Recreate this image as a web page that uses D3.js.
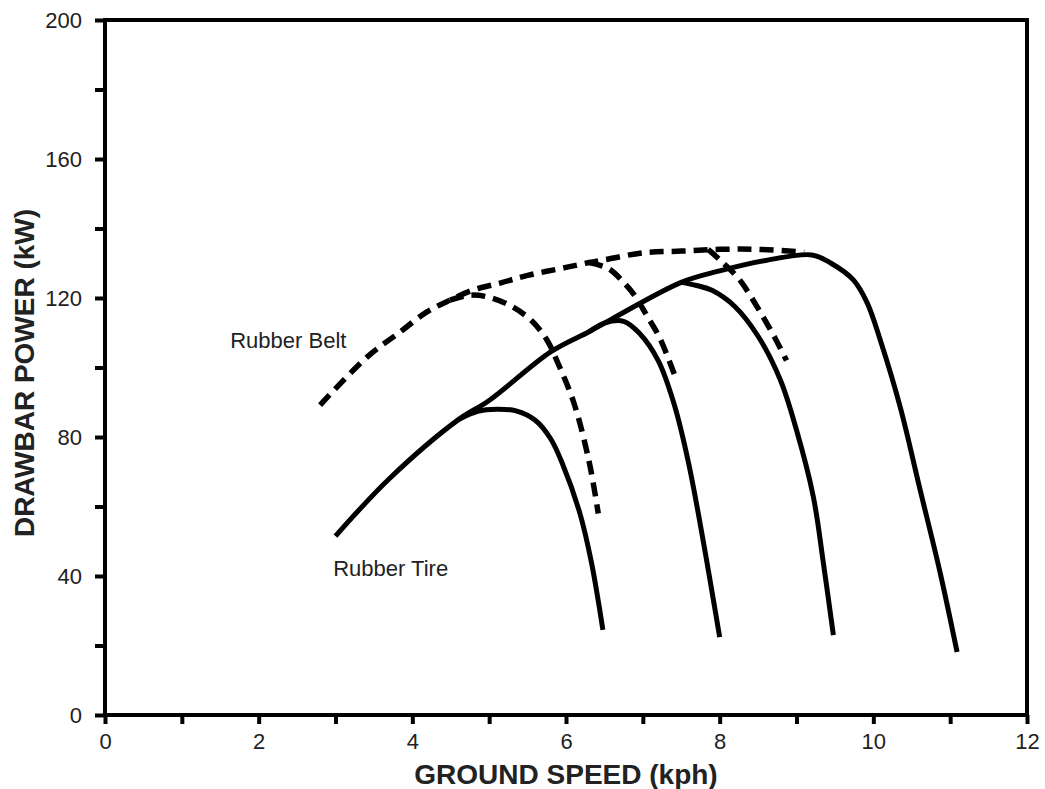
<!DOCTYPE html>
<html>
<head>
<meta charset="utf-8">
<script src="https://cdn.jsdelivr.net/npm/d3@7"></script>
<style>
  body { margin: 0; background: #fff; }
  text { font-family: "Liberation Sans", Arial, sans-serif; }
</style>
</head>
<body>
<script>
// tick values
var xTicks = [0, 1, 2, 3, 4, 5, 6, 7, 8, 9, 10, 11, 12];
var yTicks = [0, 20, 40, 60, 80, 100, 120, 140, 160, 180, 200];

// rubber tire: envelope + three gear curves
var tireEnvX = [3.0, 3.7, 4.6, 5.0, 5.8, 6.3, 6.6, 7.5, 8.0, 8.6, 9.2, 9.45, 9.74, 9.92, 10.09, 10.35, 10.61, 10.87, 11.09];
var tireEnvY = [51.5, 68, 85, 90.5, 104.5, 110.3, 114, 124.5, 127.8, 130.8, 132.4, 130, 125.2, 118.6, 107.9, 88.6, 64.7, 40.9, 18.1];
var tire1X = [4.6, 4.85, 5.1, 5.35, 5.6, 5.8, 5.95, 6.18, 6.33, 6.48];
var tire1Y = [85, 87.4, 88, 87.5, 84.8, 79.5, 72.5, 58.1, 44, 24.5];
var tire2X = [6.3, 6.5, 6.75, 6.95, 7.2, 7.4, 7.6, 8.0];
var tire2Y = [110.3, 112.8, 113.3, 110, 102, 90, 72, 22.4];
var tire3X = [7.5, 7.7, 7.9, 8.2, 8.5, 8.79, 9.0, 9.22, 9.35, 9.48];
var tire3Y = [124.5, 123.6, 122.2, 117.5, 109, 96.4, 82, 62.7, 43.7, 23];

// rubber belt: envelope + three gear curves (dashed)
var beltEnvX = [2.8, 3.41, 3.84, 4.19, 4.49, 4.79, 5.14, 5.5, 6.0, 6.3, 6.5, 7.0, 7.5, 8.0, 8.5, 9.1];
var beltEnvY = [89.2, 103, 110.2, 116, 119.4, 122.3, 124.3, 126.5, 128.8, 130.2, 131, 133, 133.5, 134, 134, 133.2];
var belt1X = [4.49, 4.75, 5.0, 5.3, 5.55, 5.75, 5.9, 6.1, 6.3, 6.42];
var belt1Y = [119.4, 120.8, 120.2, 117.5, 113.5, 108, 101, 90, 73, 58];
var belt2X = [6.3, 6.55, 6.75, 6.9, 7.05, 7.22, 7.42];
var belt2Y = [130.2, 128.5, 124.5, 120.5, 115, 108.5, 97.5];
var belt3X = [7.85, 8.0, 8.25, 8.5, 8.72, 8.87];
var belt3Y = [134, 131, 125.5, 117, 108.5, 102];

var W = 1045, H = 789;
var margin = { top: 20, right: 18, bottom: 74, left: 105 };
var width = W - margin.left - margin.right,
    height = H - margin.top - margin.bottom;

var x = d3.scaleLinear().domain([0, 12]).range([0, width]);
var y = d3.scaleLinear().domain([0, 200]).range([height, 0]);

var svg = d3.select("body").append("svg")
    .attr("width", W)
    .attr("height", H);
var g = svg.append("g")
    .attr("transform", "translate(" + margin.left + "," + margin.top + ")");

// frame
g.append("rect")
    .attr("width", width).attr("height", height)
    .attr("fill", "none").attr("stroke", "#000").attr("stroke-width", 4);

// axes
var xAxis = g.append("g")
    .attr("transform", "translate(0," + height + ")")
    .call(d3.axisBottom(x).tickValues(xTicks).tickSize(9).tickPadding(9)
      .tickFormat(function(d) { return d % 2 === 0 ? d : ""; }));
var yAxis = g.append("g")
    .call(d3.axisLeft(y).tickValues(yTicks).tickSize(10).tickPadding(13)
      .tickFormat(function(d) { return d % 40 === 0 ? d : ""; }));

[xAxis, yAxis].forEach(function(a) {
  a.select(".domain").remove();
  a.selectAll(".tick line").attr("stroke", "#000").attr("stroke-width", 4);
  a.selectAll(".tick text").attr("fill", "#222").style("font-size", "22px")
    .style("font-family", "'Liberation Sans', Arial, sans-serif");
});

// curves
var line = d3.line()
    .x(function(d) { return x(d[0]); })
    .y(function(d) { return y(d[1]); })
    .curve(d3.curveCatmullRom.alpha(0.5));

function pts(xs, ys) { return xs.map(function(v, i) { return [v, ys[i]]; }); }

var tires = [pts(tireEnvX, tireEnvY), pts(tire1X, tire1Y), pts(tire2X, tire2Y), pts(tire3X, tire3Y)];
var belts = [pts(beltEnvX, beltEnvY), pts(belt1X, belt1Y), pts(belt2X, belt2Y), pts(belt3X, belt3Y)];

g.selectAll(".belt").data(belts).enter().append("path")
    .attr("class", "belt")
    .attr("d", line)
    .attr("fill", "none")
    .attr("stroke", "#000")
    .attr("stroke-width", 5.5)
    .attr("stroke-dasharray", "14,8");

g.selectAll(".tire").data(tires).enter().append("path")
    .attr("class", "tire")
    .attr("d", line)
    .attr("fill", "none")
    .attr("stroke", "#000")
    .attr("stroke-width", 5)
    .attr("stroke-linejoin", "round");

// labels
g.append("text")
    .attr("x", x(1.63)).attr("y", y(105.7))
    .attr("fill", "#222").style("font-size", "22px")
    .text("Rubber Belt");
g.append("text")
    .attr("x", x(2.97)).attr("y", y(40))
    .attr("fill", "#222").style("font-size", "22px")
    .text("Rubber Tire");

// axis titles
svg.append("text")
    .attr("x", 566).attr("y", 784)
    .attr("text-anchor", "middle")
    .style("font-size", "28px").style("font-weight", "bold")
    .attr("fill", "#222")
    .text("GROUND SPEED (kph)");
svg.append("text")
    .attr("transform", "translate(34,373) rotate(-90)")
    .attr("text-anchor", "middle")
    .style("font-size", "28px").style("font-weight", "bold")
    .attr("fill", "#222")
    .text("DRAWBAR POWER (kW)");
</script>
</body>
</html>
